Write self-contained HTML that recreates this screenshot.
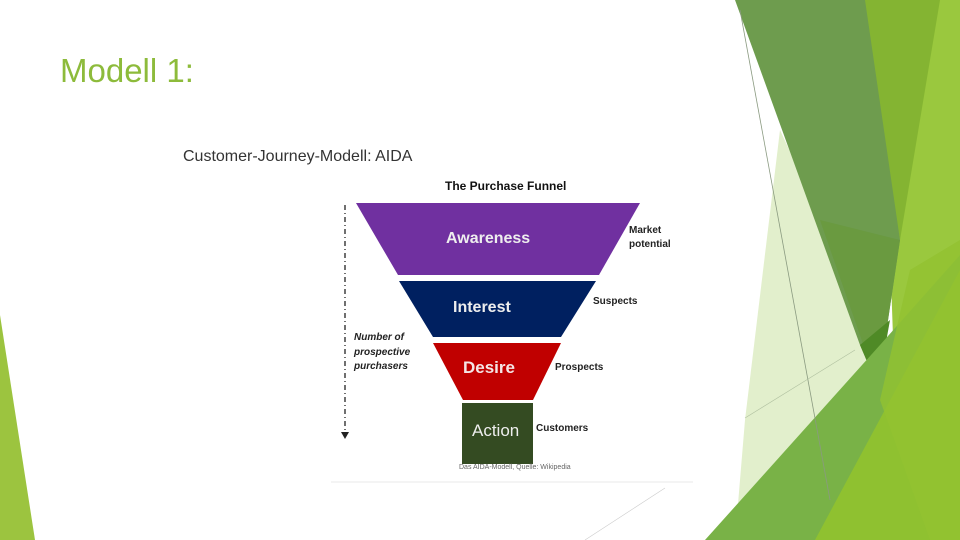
<!DOCTYPE html>
<html><head><meta charset="utf-8"><style>
html,body{margin:0;padding:0;background:#fff;}
#s{position:relative;width:960px;height:540px;overflow:hidden;font-family:"Liberation Sans",sans-serif;}
.t{position:absolute;white-space:nowrap;}
</style></head><body><div id="s">
<svg width="960" height="540" style="position:absolute;left:0;top:0">
<polygon points="0,315 35,540 0,540" fill="#9cc43f"/>
<!-- right decorations -->
<polygon points="780,130 880,345 790,540 735,540 745,420" fill="#e2efcc"/>
<polygon points="860,0 960,0 960,540 900,540 890,250" fill="#9ac83e"/>
<polygon points="860,0 940,0 900,240" fill="#84b432"/>
<polygon points="735,0 865,0 900,240 878,387 860,345" fill="#6e9c4e"/>
<polygon points="820,220 900,240 878,387" fill="#6a9a40"/>
<polygon points="860,345 890,320 878,387" fill="#4f8a26"/>
<polygon points="705,540 880,345 960,255 960,540" fill="#79b247"/>
<polygon points="815,540 960,270 960,540" fill="#8fc130"/>
<polygon points="880,400 910,270 960,240 960,540 930,540" fill="#92c231" opacity="0.8"/>
<line x1="740" y1="10" x2="830" y2="500" stroke="#8a9a80" stroke-width="0.8"/>
<line x1="745" y1="418" x2="855" y2="350" stroke="#b0c0a0" stroke-width="0.6"/>
<line x1="585" y1="540" x2="665" y2="488" stroke="#ccc" stroke-width="0.6"/>
<!-- funnel -->
<line x1="331" y1="482" x2="693" y2="482" stroke="#e8e8e8" stroke-width="1"/>
<line x1="345" y1="205" x2="345" y2="433" stroke="#222" stroke-width="1.3" stroke-dasharray="5,3,1,3"/>
<polygon points="341,432 349,432 345,439" fill="#222"/>
<polygon points="356,203 640,203 599,275 398,275" fill="#7030a0"/>
<polygon points="399,281 596,281 561,337 433,337" fill="#002060"/>
<polygon points="433,343 561,343 533,400 463,400" fill="#c00000"/>
<rect x="462" y="403" width="71" height="61" fill="#344b22"/>
</svg>
<div class="t" style="left:60px;top:52px;font-size:33px;color:#8dbb3b;">Modell 1:</div>
<div class="t" style="left:183px;top:148px;font-size:16px;color:#333;">Customer-Journey-Modell: AIDA</div>
<div class="t" style="left:445px;top:179px;font-size:12px;font-weight:bold;color:#111;">The Purchase Funnel</div>
<div class="t" style="left:446px;top:230px;font-size:16px;font-weight:bold;color:#eee;">Awareness</div>
<div class="t" style="left:453px;top:299px;font-size:16px;font-weight:bold;color:#eee;">Interest</div>
<div class="t" style="left:463px;top:358px;font-size:17px;font-weight:bold;color:#f4e6e6;">Desire</div>
<div class="t" style="left:472px;top:421px;font-size:17px;color:#eee;">Action</div>
<div class="t" style="left:629px;top:224px;font-size:10px;font-weight:bold;color:#222;line-height:14px;">Market<br>potential</div>
<div class="t" style="left:593px;top:296px;font-size:10px;font-weight:bold;color:#222;">Suspects</div>
<div class="t" style="left:555px;top:362px;font-size:10px;font-weight:bold;color:#222;">Prospects</div>
<div class="t" style="left:536px;top:423px;font-size:10px;font-weight:bold;color:#222;">Customers</div>
<div class="t" style="left:354px;top:331px;font-size:10px;font-weight:bold;font-style:italic;color:#222;line-height:14.5px;">Number of<br>prospective<br>purchasers</div>
<div class="t" style="left:459px;top:464px;font-size:7px;color:#666;">Das AIDA-Modell, Quelle: Wikipedia</div>
</div></body></html>
